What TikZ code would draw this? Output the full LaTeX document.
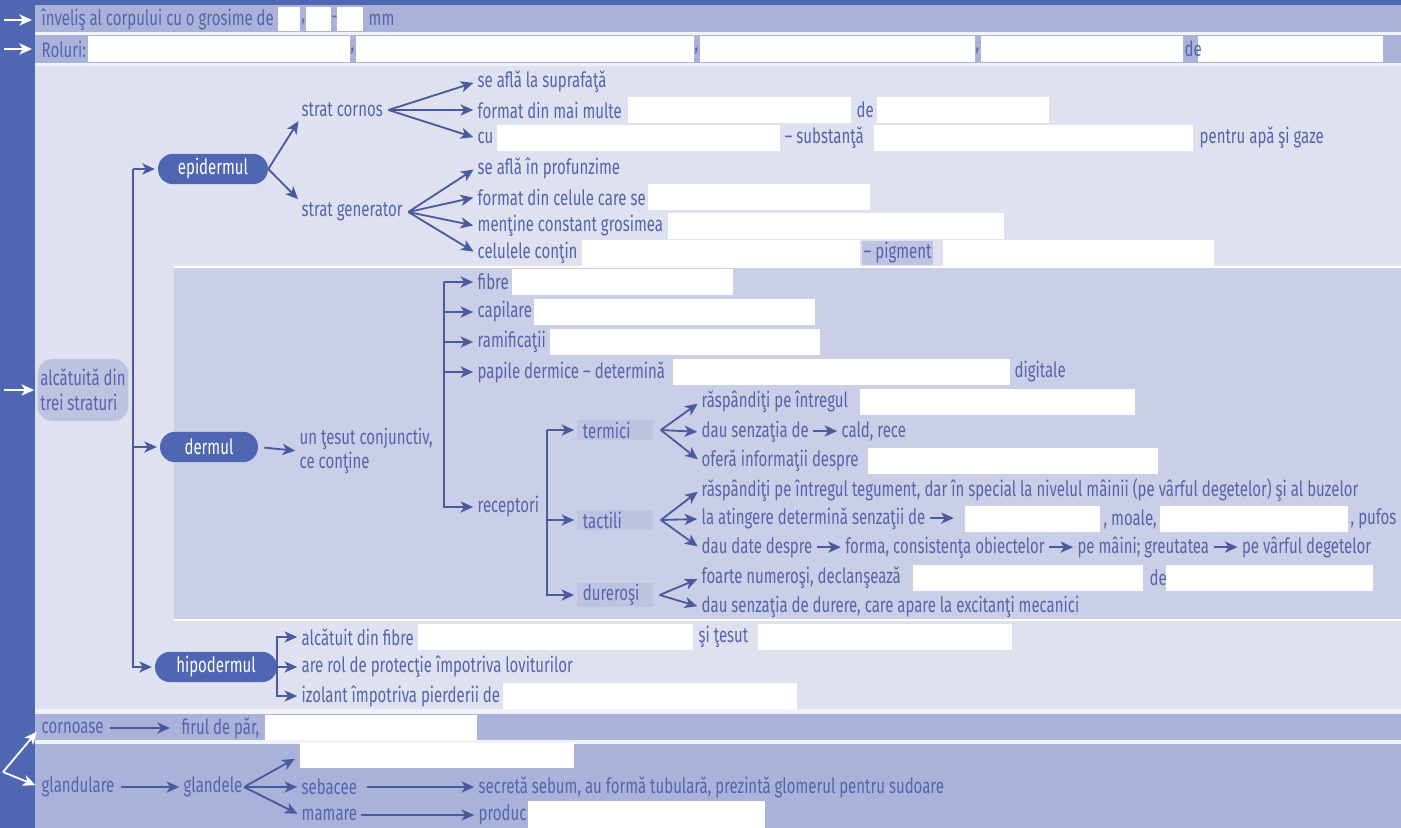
\documentclass[tikz,border=0pt]{standalone}
\usepackage{fontspec}
\setmainfont{Fira Sans}[FakeStretch=0.71]
\usetikzlibrary{arrows.meta}
\usetikzlibrary{shapes}
\usetikzlibrary{positioning}

\definecolor{albastru}{HTML}{4F66B2}
\definecolor{banda}{HTML}{AAB2D9}
\definecolor{deschis}{HTML}{DFE1F0}
\definecolor{derm}{HTML}{CBCEE7}
\definecolor{evid}{HTML}{BEC3E2}
\definecolor{cerneala}{HTML}{5565AC}
\definecolor{sageata}{HTML}{4A5A9F}

\tikzset{
  txt/.style={anchor=west, inner sep=1pt, text=cerneala, font=\fontsize{15}{17.5}\selectfont},
  strat/.style={rounded rectangle, fill=albastru, text=white, font=\fontsize{15}{17.5}\selectfont, minimum height=0.76cm, inner xsep=0pt},
  evbox/.style={txt, fill=evid, inner xsep=4pt, text width=1.6cm, minimum height=0.5cm},
  varf/.style={-{Stealth[length=9pt,width=8pt,inset=2.5pt]}},
  sag/.style={varf, line width=1.3pt, draw=sageata, shorten >=2pt},
  sagalb/.style={varf, line width=1.3pt, draw=white, shorten >=0.2cm},
}
\newcommand{\casuta}[3]{\fill[white] (#1,#3-13) rectangle (#2,#3+13);}
\newcommand{\insag}{\,\tikz[baseline=-0.6ex]\draw[varf,line width=1.3pt,sageata] (0,0) -- (0.6cm,0);\,}

\begin{document}
\begin{tikzpicture}[x=0.025cm,y=-0.025cm]
  \useasboundingbox (0,0) rectangle (1401,828);
  % fundal
  \fill[white!55!deschis] (0,0) rectangle (1401,828);
  \fill[albastru] (0,0) rectangle (1401,5);
  \fill[albastru] (0,0) rectangle (35,828);
  \fill[banda] (35,5) rectangle (1401,32);
  \fill[banda] (35,35) rectangle (1401,63);
  \fill[deschis] (35,66) rectangle (1401,709);
  \fill[derm] (174,268) rectangle (1401,619);
  \draw[white, line width=1.2pt] (174,267) -- (1401,267);
  \draw[white, line width=1.2pt] (174,620) -- (1401,620);
  \fill[banda] (35,714) rectangle (1401,740);
  \fill[banda] (35,744) rectangle (1401,828);

  % rand 1
  \fill[white] (278,7) rectangle (300,31);
  \fill[white] (306,7) rectangle (331,31);
  \fill[white] (337,7) rectangle (363,31);
  \coordinate (a1) at (4,20);
  \node[txt] (invelis) at (40,20) {înveliş al corpului cu o grosime de};
  \node[txt] at (300,22) {,};
  \node[txt] at (330,20) {-};
  \node[txt] (mm) at (367,20) {mm};
  \draw[sagalb] (a1) -- (invelis.west);

  % rand 2
  \fill[white] (88,36) rectangle (350,62);
  \fill[white] (356,36) rectangle (694,62);
  \fill[white] (700,36) rectangle (975,62);
  \fill[white] (981,36) rectangle (1183,62);
  \fill[white] (1198,36) rectangle (1383,62);
  \coordinate (a2) at (4,49);
  \node[txt] (roluri) at (40,49) {Roluri:};
  \node[txt] at (349,51) {,};
  \node[txt] at (693,51) {,};
  \node[txt] at (974,51) {,};
  \node[txt] at (1183,49) {de};
  \draw[sagalb] (a2) -- (roluri.west);

  % trei straturi
  \node[rectangle, rounded corners=0.38cm, fill=evid, text=cerneala, font=\fontsize{15}{18}\selectfont,
        minimum width=2.25cm, minimum height=1.55cm, align=left, inner xsep=2pt] (alc) at (83,390)
        {alcătuită din\\trei straturi};
  \coordinate (a3) at (4,390);
  \draw[sagalb, shorten >=0.08cm] (a3) -- (alc.west);

  \node[strat, minimum width=2.75cm] (epid) at (213,169) {epidermul};
  \node[strat, minimum width=2.45cm] (dermul) at (209,447) {dermul};
  \node[strat, minimum width=3.05cm] (hipo) at (216,667) {hipodermul};
  \coordinate (spine) at (133,0);
  \draw[sag] (epid.west -| spine) |- (hipo.west);
  \draw[sag] (epid.west -| spine) -- (epid.west);
  \draw[sag] (dermul.west -| spine) -- (dermul.west);

  % epidermul
  \node[txt] (cornos) at (300,110) {strat cornos};
  \node[txt] (gener) at (300,212) {strat generator};
  \draw[sag] (epid.east) -- (cornos.south west);
  \draw[sag] (epid.east) -- (gener.north west);

  \casuta{628}{851}{110} \casuta{877}{1049}{110}
  \casuta{497}{780}{138} \casuta{874}{1193}{138}
  \casuta{648}{870}{197}
  \casuta{668}{1004}{226}
  \casuta{582}{860}{253} \casuta{943}{1214}{253}
  \node[txt] (sup) at (476,82) {se află la suprafaţă};
  \node[txt] (form) at (476,110) {format din mai multe};
  \node[txt] at (855,110) {de};
  \node[txt] (cu) at (476,138) {cu};
  \node[txt] at (783,138) {– substanţă};
  \node[txt] at (1198,138) {pentru apă şi gaze};
  \node[txt] (prof) at (476,168) {se află în profunzime};
  \node[txt] (celule) at (476,197) {format din celule care se};
  \node[txt] (mentine) at (476,226) {menţine constant grosimea};
  \node[txt] (contin) at (476,253) {celulele conţin};
  \node[txt, fill=evid, minimum height=0.6cm] at (862,253) {– pigment};
  \foreach \c in {sup,form,cu}
    \draw[sag] ([xshift=0.1cm]cornos.east) -- (\c.west);
  \foreach \c in {prof,celule,mentine,contin}
    \draw[sag] ([xshift=0.1cm]gener.east) -- (\c.west);

  % dermul
  \node[txt, align=left] (tesut) at (298,451) {un ţesut conjunctiv,\\ce conţine};
  \draw[sag, shorten <=0.15cm] (dermul.east) -- (tesut.west);

  \casuta{512}{733}{282}
  \casuta{534}{815}{312}
  \casuta{550}{820}{342}
  \casuta{673}{1010}{372}
  \node[txt] (fibre) at (476,282) {fibre};
  \node[txt] (capil) at (476,312) {capilare};
  \node[txt] (ramif) at (476,342) {ramificaţii};
  \node[txt] (papile) at (476,372) {papile dermice – determină};
  \node[txt] at (1013,372) {digitale};
  \node[txt] (recep) at (476,507) {receptori};
  \coordinate (dspine) at (444,0);
  \draw[sag] (fibre.west -| dspine) |- (recep.west);
  \foreach \c in {fibre,capil,ramif,papile}
    \draw[sag] (\c.west -| dspine) -- (\c.west);

  % receptori
  \node[evbox] (termici) at (577,430) {termici};
  \node[evbox] (tactili) at (577,520) {tactili};
  \node[evbox] (durer) at (577,595) {dureroşi};
  \coordinate (rspine) at (547,0);
  \draw[sag] (termici.west -| rspine) |- (durer.west);
  \draw[sag] (termici.west -| rspine) -- (termici.west);
  \draw[sag] (tactili.west -| rspine) -- (tactili.west);

  \casuta{860}{1135}{402}
  \casuta{868}{1158}{461}
  \casuta{965}{1100}{519} \casuta{1160}{1348}{519}
  \casuta{913}{1143}{578} \casuta{1166}{1373}{578}
  \node[txt] (t1) at (700,402) {răspândiţi pe întregul};
  \node[txt] (t2) at (700,432) {dau senzaţia de\insag cald, rece};
  \node[txt] (t3) at (700,461) {oferă informaţii despre};
  \node[txt] (c1) at (700,490) {răspândiţi pe întregul tegument, dar în special la nivelul mâinii (pe vârful degetelor) şi al buzelor};
  \node[txt] (c2) at (700,519) {la atingere determină senzaţii de\insag};
  \node[txt] at (1102,519) {, moale,};
  \node[txt] at (1349,519) {, pufos};
  \node[txt] (c3) at (700,548) {dau date despre\insag forma, consistenţa obiectelor\insag pe mâini; greutatea\insag pe vârful degetelor};
  \node[txt] (d1) at (700,578) {foarte numeroşi, declanşează};
  \node[txt] at (1148,578) {de};
  \node[txt] (d2) at (700,607) {dau senzaţia de durere, care apare la excitanţi mecanici};
  \foreach \c in {t1,t2,t3}
    \draw[sag] ([xshift=0.2cm]termici.east) -- (\c.west);
  \foreach \c in {c1,c2,c3}
    \draw[sag] ([xshift=0.2cm]tactili.east) -- (\c.west);
  \foreach \c in {d1,d2}
    \draw[sag] ([xshift=0.17cm]durer.east) -- (\c.west);

  % hipodermul
  \casuta{418}{693}{637} \casuta{758}{1012}{637}
  \casuta{503}{797}{696}
  \node[txt] (h1) at (300,637) {alcătuit din fibre};
  \node[txt] at (697,637) {şi ţesut};
  \node[txt] (h2) at (300,667) {are rol de protecţie împotriva loviturilor};
  \node[txt] (h3) at (300,696) {izolant împotriva pierderii de};
  \draw[sag] (hipo.east) |- (h1.west);
  \draw[sag] (hipo.east) -- (h2.west);
  \draw[sag] (hipo.east) |- (h3.west);

  % anexe
  \fill[white] (265,715) rectangle (477,740);
  \fill[white] (528,801) rectangle (765,828);
  \coordinate (v) at (3,772);
  \node[txt] (corn) at (40,728) {cornoase};
  \node[txt] (fir) at (180,728) {firul de păr,};
  \node[txt] (gland) at (40,787) {glandulare};
  \node[txt] (glandele) at (182,787) {glandele};
  \node[fill=white, anchor=north west, minimum width=6.83cm, minimum height=0.63cm, inner sep=0pt] (sud) at (300,743) {};
  \node[txt] (seb) at (300,787) {sebacee};
  \node[txt] (secr) at (477,787) {secretă sebum, au formă tubulară, prezintă glomerul pentru sudoare};
  \node[txt] (mam) at (300,815) {mamare};
  \node[txt] (prod) at (477,815) {produc};
  \draw[sagalb, shorten >=0.12cm] (v) -- (corn.west);
  \draw[sagalb, shorten >=0.12cm] (v) -- (gland.west);
  \draw[sag, shorten <=0.12cm, shorten >=0.25cm] (corn.east) -- (fir.west);
  \draw[sag, shorten <=0.12cm] (gland.east) -- (glandele.west);
  \draw[sag, shorten <=0.05cm, shorten >=0.15cm] (glandele.east) -- (sud.west);
  \draw[sag] (glandele.east) -- (seb.west);
  \draw[sag] (glandele.east) -- (mam.west);
  \draw[sag, shorten <=0.2cm] (seb.east) -- (secr.west);
  \draw[sag, shorten <=0.05cm] (mam.east) -- (prod.west);
\end{tikzpicture}
\end{document}
